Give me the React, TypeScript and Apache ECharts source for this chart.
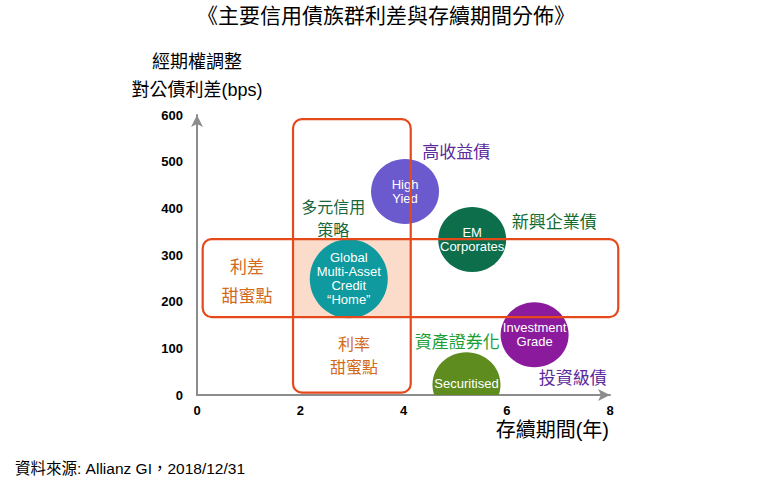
import React, { useEffect, useRef } from "react";
import * as echarts from "echarts";

// ---- data ----
const bubbleLabels = [
  "High\nYied",
  "Global\nMulti-Asset\nCredit\n\u201cHome\u201d",
  "EM\nCorporates",
  "Investment\nGrade",
  "Securitised",
];
const bubbleDuration = [4.03, 2.94, 5.33, 6.54, 5.22];
const bubbleSpread = [436, 249, 333, 129, 22];

// zones (x0, x1 in years; y0, y1 in bps)
const zoneNames = ["利率甜蜜點", "利差甜蜜點"];
const zoneX0 = [1.86, 0.11];
const zoneX1 = [4.14, 8.16];
const zoneY0 = [5, 167];
const zoneY1 = [591, 334];

// annotations
const noteTexts = ["高收益債", "新興企業債", "多元信用\n策略", "利差\n甜蜜點", "利率\n甜蜜點", "資產證券化", "投資級債"];
const noteX = [5.02, 6.92, 2.64, 0.97, 3.04, 5.04, 7.28];
const noteY = [525, 375, 380, 247, 86, 116, 39];

const xTicks = [0, 2, 4, 6, 8];
const yTicks = [0, 100, 200, 300, 400, 500, 600];

// ---- styles ----
const bubbleColors = ["#6A5ACD", "#0E9A9E", "#0D6E4C", "#8B1A9C", "#5F8C1F"];
const bubbleSizes = [[68, 65], [78, 79], [68, 65], [68, 65], [68, 65]];
const noteColors = ["#5B2A9B", "#136B2E", "#17673C", "#D26A1E", "#D26A1E", "#1AA037", "#5B2A9B"];
const noteFontSizes = [17, 17, 16, 17, 16, 17, 17];
const noteLineHeights = [20, 20, 23, 29, 23, 20, 20];

const LATIN = "'Liberation Sans', Arial, 'Noto Sans CJK TC', sans-serif";
const CJK = "'Noto Sans CJK TC', 'Liberation Sans', sans-serif";

export default function App() {
  const ref = useRef<HTMLDivElement>(null);
  useEffect(() => {
    if (!ref.current) return;
    const chart = echarts.init(ref.current, undefined, { renderer: "svg" });

    const ix0 = Math.max(...zoneX0);
    const ix1 = Math.min(...zoneX1);
    const iy0 = Math.max(...zoneY0);
    const iy1 = Math.min(...zoneY1);

    const axisCommon = {
      type: "value",
      axisLine: {
        show: true,
        symbol: ["none", "arrow"],
        symbolSize: [9, 12],
        lineStyle: { color: "#8C8C8C", width: 2 },
      },
      axisTick: { show: false },
      splitLine: { show: false },
    };

    const option: any = {
      animation: false,
      backgroundColor: "#ffffff",
      grid: { left: 197, right: 150, top: 115, bottom: 85, containLabel: false },
      xAxis: {
        ...axisCommon,
        min: xTicks[0],
        max: xTicks[xTicks.length - 1],
        interval: xTicks[1] - xTicks[0],
        axisLabel: { color: "#000", fontSize: 13, fontWeight: "bold", fontFamily: LATIN, margin: 9 },
      },
      yAxis: {
        ...axisCommon,
        min: yTicks[0],
        max: yTicks[yTicks.length - 1],
        interval: yTicks[1] - yTicks[0],
        axisLabel: { color: "#000", fontSize: 13, fontWeight: "bold", fontFamily: LATIN, margin: 14 },
      },
      graphic: [
        {
          type: "text", x: 386, y: 14,
          style: { text: "《主要信用債族群利差與存續期間分佈》", fill: "#000", fontSize: 21, fontFamily: CJK, align: "center", verticalAlign: "middle" },
        },
        {
          type: "text", x: 197, y: 60,
          style: { text: "經期權調整", fill: "#000", fontSize: 18, fontFamily: CJK, align: "center", verticalAlign: "middle" },
        },
        {
          type: "text", x: 197, y: 90,
          style: { text: "對公債利差(bps)", fill: "#000", fontSize: 18, fontFamily: LATIN, align: "center", verticalAlign: "middle" },
        },
        {
          type: "text", x: 609, y: 430,
          style: { text: "存續期間(年)", fill: "#000", fontSize: 20, fontFamily: LATIN, align: "right", verticalAlign: "middle" },
        },
        {
          type: "text", x: 15, y: 468,
          style: { text: "資料來源: Allianz GI，2018/12/31", fill: "#000", fontSize: 15.5, fontFamily: LATIN, align: "left", verticalAlign: "middle" },
        },
      ],
      series: [
        {
          // overlap fill of the two sweet-spot zones
          type: "custom",
          name: "overlap",
          z: 1,
          clip: false,
          data: [[ix0, iy0, ix1, iy1]],
          renderItem: (params: any, api: any) => {
            const p0 = api.coord([api.value(0), api.value(3)]);
            const p1 = api.coord([api.value(2), api.value(1)]);
            return {
              type: "rect",
              shape: { x: p0[0], y: p0[1], width: p1[0] - p0[0], height: p1[1] - p0[1] },
              style: { fill: "#FBDBC9" },
            };
          },
        },
        {
          type: "custom",
          name: "bubbles",
          z: 2,
          clip: true,
          data: bubbleDuration.map((d, i) => [d, bubbleSpread[i]]),
          renderItem: (params: any, api: any) => {
            const i = params.dataIndex;
            const c = api.coord([api.value(0), api.value(1)]);
            const [w, h] = bubbleSizes[i];
            return {
              type: "group",
              children: [
                { type: "ellipse", shape: { cx: c[0], cy: c[1], rx: w / 2, ry: h / 2 }, style: { fill: bubbleColors[i] } },
                {
                  type: "text",
                  x: c[0],
                  y: c[1] - (i === 4 ? 1.5 : 0),
                  style: {
                    text: bubbleLabels[i],
                    fill: "#ffffff",
                    fontSize: 13,
                    fontFamily: LATIN,
                    lineHeight: 14,
                    align: "center",
                    verticalAlign: "middle",
                  },
                },
              ],
            };
          },
        },
        {
          type: "custom",
          name: "zones",
          z: 3,
          clip: false,
          data: zoneNames.map((n, i) => [zoneX0[i], zoneY0[i], zoneX1[i], zoneY1[i]]),
          renderItem: (params: any, api: any) => {
            const p0 = api.coord([api.value(0), api.value(3)]);
            const p1 = api.coord([api.value(2), api.value(1)]);
            return {
              type: "rect",
              shape: { x: p0[0], y: p0[1], width: p1[0] - p0[0], height: p1[1] - p0[1], r: 9 },
              style: { fill: "none", stroke: "#E5481B", lineWidth: 2.2 },
            };
          },
        },
        {
          type: "custom",
          name: "notes",
          z: 4,
          clip: false,
          data: noteX.map((x, i) => [x, noteY[i]]),
          renderItem: (params: any, api: any) => {
            const i = params.dataIndex;
            const c = api.coord([api.value(0), api.value(1)]);
            return {
              type: "text",
              x: c[0],
              y: c[1],
              style: {
                text: noteTexts[i],
                fill: noteColors[i],
                fontSize: noteFontSizes[i],
                lineHeight: noteLineHeights[i],
                fontFamily: CJK,
                align: "center",
                verticalAlign: "middle",
              },
            };
          },
        },
      ],
    };
    chart.setOption(option);
    return () => chart.dispose();
  }, []);
  return (
    <div
      ref={ref}
      style={{ position: "absolute", left: 0, top: 0, width: 760, height: 480, background: "#fff" }}
    />
  );
}
